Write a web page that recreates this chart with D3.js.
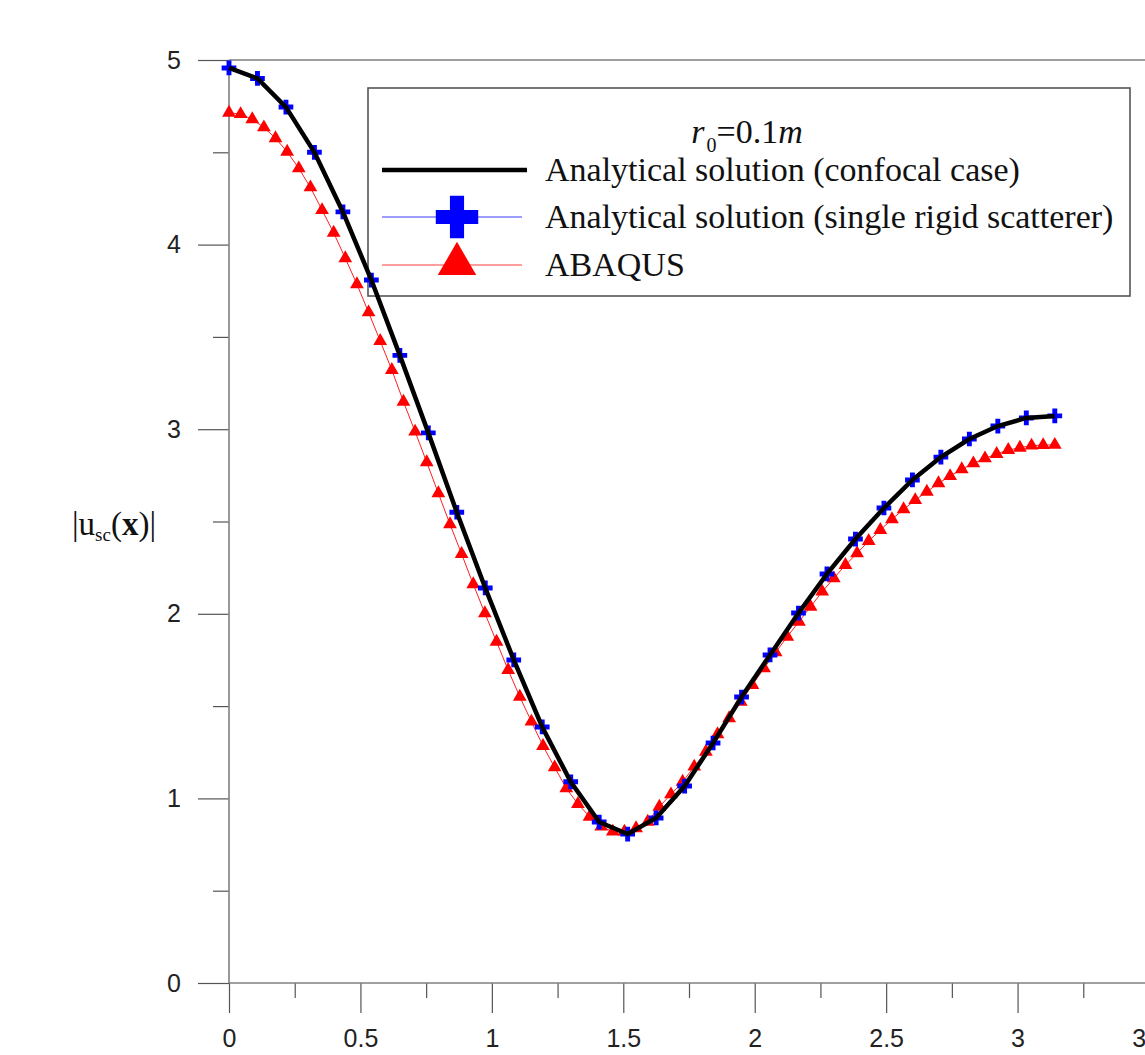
<!DOCTYPE html>
<html>
<head>
<meta charset="utf-8">
<script src="https://cdn.jsdelivr.net/npm/d3@7"></script>
<style>
  body { margin: 0; background: #fff; }
  .tick text { font-family: "Liberation Sans", Arial, sans-serif; font-size: 25px; fill: #222; }
  .serif { font-family: "Liberation Serif", "Times New Roman", serif; fill: #111; }
</style>
</head>
<body>
<div id="chart"></div>
<script>
// chart data
const confocalX = d3.range(30).map(k => k * Math.PI / 29);
const confocalY = [4.957, 4.90, 4.745, 4.50, 4.177, 3.808, 3.40, 2.98, 2.55, 2.14,
                   1.75, 1.387, 1.09, 0.872, 0.807, 0.894, 1.067, 1.30, 1.549, 1.777,
                   2.004, 2.216, 2.405, 2.573, 2.725, 2.849, 2.947, 3.017, 3.061, 3.072];

const rigidX = d3.range(30).map(k => k * Math.PI / 29);
const rigidY = [4.957, 4.90, 4.745, 4.50, 4.177, 3.808, 3.40, 2.98, 2.55, 2.14,
                1.75, 1.387, 1.09, 0.872, 0.807, 0.894, 1.067, 1.30, 1.549, 1.777,
                2.004, 2.216, 2.405, 2.573, 2.725, 2.849, 2.947, 3.017, 3.061, 3.072];

const abaqusX = d3.range(72).map(k => k * Math.PI / 71);
const abaqusY = [4.714, 4.707, 4.679, 4.635, 4.576, 4.503, 4.413, 4.310, 4.187, 4.064,
                 3.926, 3.785, 3.633, 3.478, 3.321, 3.149, 2.987, 2.821, 2.653, 2.485,
                 2.324, 2.160, 2.003, 1.849, 1.696, 1.551, 1.416, 1.284, 1.168, 1.055,
                 0.970, 0.901, 0.847, 0.820, 0.820, 0.838, 0.874, 0.955, 1.022, 1.090,
                 1.172, 1.253, 1.348, 1.434, 1.524, 1.614, 1.705, 1.791, 1.876, 1.957,
                 2.038, 2.120, 2.192, 2.264, 2.328, 2.394, 2.454, 2.512, 2.566, 2.616,
                 2.661, 2.707, 2.746, 2.783, 2.815, 2.842, 2.866, 2.887, 2.900, 2.911,
                 2.914, 2.915];

const xMajor = [0, 0.5, 1, 1.5, 2, 2.5, 3, 3.5];
const xMinor = [0.25, 0.75, 1.25, 1.75, 2.25, 2.75, 3.25];
const yMajor = [0, 1, 2, 3, 4, 5];
const yMinor = [0.5, 1.5, 2.5, 3.5, 4.5];

const legendLabels = ["Analytical solution (confocal case)",
                      "Analytical solution (single rigid scatterer)",
                      "ABAQUS"];

// svg
const width = 1145,
      height = 1055;
const svg = d3.select("#chart")
  .append("svg")
    .attr("width", width)
    .attr("height", height);

// scales
const x = d3.scaleLinear().domain([0, 3.5]).range([229, 1149]);
const y = d3.scaleLinear().domain([0, 5]).range([983, 60]);

// axes
svg.append("g")
  .attr("transform", `translate(0,${y(0)})`)
  .call(d3.axisBottom(x).tickValues(xMajor).tickSize(30).tickPadding(16)
        .tickFormat(d3.format("")));
svg.append("g")
  .attr("transform", `translate(0,${y(0)})`)
  .call(d3.axisBottom(x).tickValues(xMinor).tickSize(15).tickFormat(""));
svg.append("g")
  .attr("transform", `translate(${x(0)},0)`)
  .call(d3.axisLeft(y).tickValues(yMajor).tickSize(31).tickPadding(17)
        .tickFormat(d3.format("")));
svg.append("g")
  .attr("transform", `translate(${x(0)},0)`)
  .call(d3.axisLeft(y).tickValues(yMinor).tickSize(16).tickFormat(""));

svg.selectAll(".domain").remove();
svg.selectAll(".tick line").attr("stroke", "#555").attr("stroke-width", 1.2);

// frame lines
svg.append("path")
  .attr("d", `M${x(0)},${y(5)}V${y(0)}M${x(0)},${y(0)}H${x(3.5)}M${x(0)},${y(5)}H${x(3.5)}V${y(0)}`)
  .attr("fill", "none")
  .attr("stroke", "#808080")
  .attr("stroke-width", 1.6);

// y label
const yLabel = svg.append("text")
  .attr("class", "serif")
  .attr("x", 72)
  .attr("y", 535)
  .style("font-size", "33px");
yLabel.append("tspan").text("|u");
yLabel.append("tspan").attr("dy", 6).style("font-size", "19px").text("sc");
yLabel.append("tspan").attr("dy", -6).text("(");
yLabel.append("tspan").style("font-weight", "bold").text("x");
yLabel.append("tspan").text(")|");

// legend
const legend = svg.append("g");
legend.append("rect")
  .attr("x", 368).attr("y", 88)
  .attr("width", 762).attr("height", 208)
  .attr("fill", "none")
  .attr("stroke", "#555")
  .attr("stroke-width", 1.6);

const title = legend.append("text")
  .attr("class", "serif")
  .attr("x", 747).attr("y", 143)
  .attr("text-anchor", "middle")
  .style("font-size", "34px");
title.append("tspan").style("font-style", "italic").text("r");
title.append("tspan").attr("dx", 2).attr("dy", 9).style("font-size", "20px").text("0");
title.append("tspan").attr("dy", -9).text("=0.1");
title.append("tspan").style("font-style", "italic").text("m");

const rowY = [170, 217, 265];
legend.selectAll(".lab")
  .data(legendLabels)
  .join("text")
    .attr("class", "serif lab")
    .attr("x", 545)
    .attr("y", (d, i) => rowY[i] + 11)
    .style("font-size", "34px")
    .text(d => d);

legend.append("line")
  .attr("x1", 382).attr("x2", 527).attr("y1", rowY[0]).attr("y2", rowY[0])
  .attr("stroke", "#000").attr("stroke-width", 4.5);
legend.append("line")
  .attr("x1", 382).attr("x2", 522).attr("y1", rowY[1]).attr("y2", rowY[1])
  .attr("stroke", "#3a3aff").attr("stroke-width", 1);
legend.append("path")
  .attr("d", d3.symbol().type(d3.symbolCross).size(1000)())
  .attr("transform", `translate(457,${rowY[1]})`)
  .attr("fill", "#0000ff");
legend.append("line")
  .attr("x1", 382).attr("x2", 522).attr("y1", rowY[2]).attr("y2", rowY[2])
  .attr("stroke", "#ff3a3a").attr("stroke-width", 1);
legend.append("path")
  .attr("d", d3.symbol().type(d3.symbolTriangle).size(640)())
  .attr("transform", `translate(457,${rowY[2] - 1})`)
  .attr("fill", "#ff0000");

// line generator
const line = d3.line()
  .x(d => x(d[0]))
  .y(d => y(d[1]));

// ABAQUS: thin red line with triangles
const abaqus = d3.zip(abaqusX, abaqusY);
svg.append("path")
  .datum(abaqus)
  .attr("d", line)
  .attr("fill", "none")
  .attr("stroke", "#ff2020")
  .attr("stroke-width", 1);
svg.append("g")
  .selectAll("path")
  .data(abaqus)
  .join("path")
    .attr("d", d3.symbol().type(d3.symbolTriangle).size(82)())
    .attr("transform", d => `translate(${x(d[0])},${y(d[1])})`)
    .attr("fill", "#ff0000");

// single rigid scatterer: thin blue line with crosses
const rigid = d3.zip(rigidX, rigidY);
svg.append("path")
  .datum(rigid)
  .attr("d", line)
  .attr("fill", "none")
  .attr("stroke", "#3a3aff")
  .attr("stroke-width", 1);
svg.append("g")
  .selectAll("path")
  .data(rigid)
  .join("path")
    .attr("d", d3.symbol().type(d3.symbolCross).size(120)())
    .attr("transform", d => `translate(${x(d[0])},${y(d[1])})`)
    .attr("fill", "#0000ff");

// confocal case: thick black line on top
svg.append("path")
  .datum(d3.zip(confocalX, confocalY))
  .attr("d", line)
  .attr("fill", "none")
  .attr("stroke", "#000")
  .attr("stroke-width", 4.5);
</script>
</body>
</html>
